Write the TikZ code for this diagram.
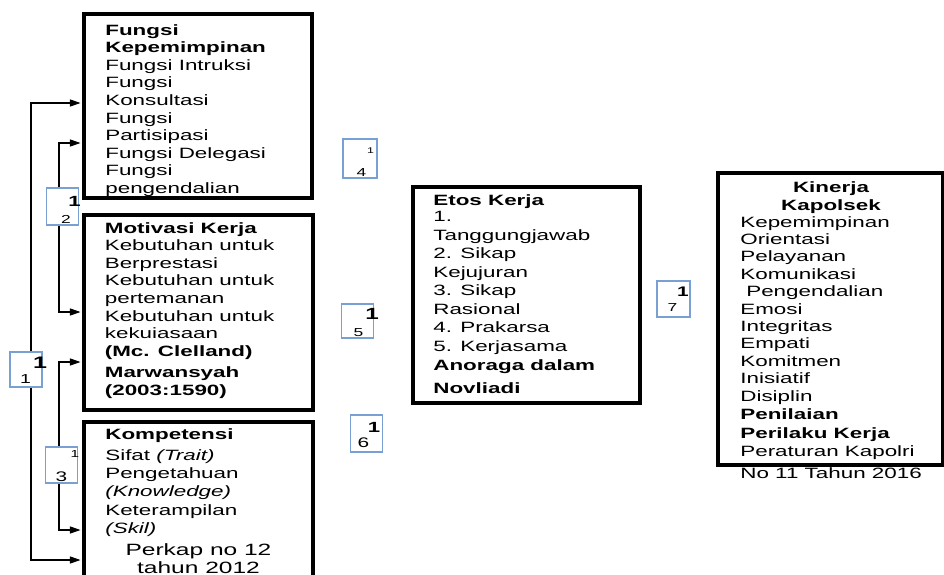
\documentclass[tikz,border=0pt]{standalone}
\usepackage{fontspec}
\setmainfont{Liberation Sans}[FakeStretch=1.5]
\usepackage{tikz}
\usetikzlibrary{arrows.meta,positioning}
\definecolor{numblue}{RGB}{120,160,210}
\newcommand{\fsz}[1]{\fontsize{#1}{#1}\selectfont}
\tikzstyle{arrow} = [line width=0.6pt,<->,>={Triangle[length=6pt,width=4pt]},shorten <=1pt,shorten >=1pt]
\tikzstyle{varbox} = [rectangle, draw=black, line width=2pt, inner sep=0pt]
\tikzstyle{numbox} = [rectangle, draw=numblue, fill=white, line width=1pt, minimum width=0.64cm, minimum height=0.72cm]
\tikzstyle{boxtext} = [align=left, inner sep=0pt, anchor=north west, font=\fontsize{8.5}{10}\selectfont]
\tikzstyle{numtext} = [inner sep=0pt]

\begin{document}
\begin{tikzpicture}[x=0.02cm, y=-0.02cm]
\useasboundingbox (0,0) rectangle (944,575);

% variable boxes
\node[varbox, minimum width=4.56cm, minimum height=3.68cm] (boxA) at (198,106) {};
\node[varbox, minimum width=4.58cm, minimum height=3.9cm] (boxB) at (198.5,312.5) {};
\node[varbox, minimum width=4.58cm, minimum height=3.96cm] (boxC) at (198.5,521) {};
\node[varbox, minimum width=4.54cm, minimum height=4.32cm] (boxD) at (526.5,295) {};
\node[varbox, minimum width=4.5cm, minimum height=5.84cm] (boxE) at (830.5,319) {};

% box texts
\begin{scope}
\clip (boxA.north west) rectangle ([yshift=1pt]boxA.south east);
\node[boxtext] (tA) at (105,24) {\textbf{Fungsi}\\ \textbf{Kepemimpinan}\\ Fungsi Intruksi\\ Fungsi\\ Konsultasi\\ Fungsi\\ Partisipasi\\ Fungsi Delegasi\\ Fungsi\\ pengendalian};
\end{scope}
\node[boxtext] (tB) at (104.5,222) {\textbf{Motivasi Kerja}\\ Kebutuhan untuk\\ Berprestasi\\ Kebutuhan untuk\\ pertemanan\\ Kebutuhan untuk\\ kekuiasaan\\ \textbf{(Mc. Clelland)}\\[2.2pt] \textbf{Marwansyah}\\ \textbf{(2003:1590)}};
\node[boxtext, font=\fontsize{8.5}{10.5}\selectfont] (tC) at (105,428) {\textbf{Kompetensi}\\[1.4pt] Sifat \textit{(Trait)}\\ Pengetahuan\\ \textit{(Knowledge)}\\ Keterampilan\\ \textit{(Skil)}};
\node[align=center, anchor=north, inner sep=0pt, font=\fontsize{9.3}{10.2}\selectfont] (tC2) at (198.5,543) {Perkap no 12\\ tahun 2012};
\node[boxtext, font=\fontsize{8.5}{10.5}\selectfont] (tD) at (433,194) {\textbf{Etos Kerja}\\[-1pt] 1.\\ Tanggungjawab\\ 2. Sikap\\ Kejujuran\\ 3. Sikap\\ Rasional\\ 4. Prakarsa\\ 5. Kerjasama\\[0.7pt] \textbf{Anoraga dalam}\\[2.5pt] \textbf{Novliadi}};
\node[align=center, anchor=north, inner sep=0pt, font=\bfseries\fontsize{8.5}{10.4}\selectfont] (tE1) at (831,181) {Kinerja\\ Kapolsek};
\node[boxtext, font=\fontsize{8.5}{9.9}\selectfont] (tE2) at (740,216) {Kepemimpinan\\ Orientasi\\ Pelayanan\\ Komunikasi\\ \hspace*{3.4pt}Pengendalian\\ Emosi\\ Integritas\\ Empati\\ Komitmen\\ Inisiatif\\ Disiplin\\[0.6pt] \textbf{Penilaian}\\[0.9pt] \textbf{Perilaku Kerja}\\[0.5pt] Peraturan Kapolri\\[2.2pt] No 11 Tahun 2016};

% connectors
\coordinate (l1top) at (31,103);
\coordinate (l1bot) at (31,560);
\coordinate (l2top) at (59,143);
\coordinate (l2bot) at (59,312);
\coordinate (l3top) at (59,362);
\coordinate (l3bot) at (59,530);
\draw[arrow] (boxA.west |- l1top) -- (l1top) -- (l1bot) -- (boxC.west |- l1bot);
\draw[arrow] (boxA.west |- l2top) -- (l2top) -- (l2bot) -- (boxB.west |- l2bot);
\draw[arrow] (boxB.west |- l3top) -- (l3top) -- (l3bot) -- (boxC.west |- l3bot);

% number boxes
\node[numbox, minimum height=0.7cm] (n11) at (26,369.5) {};
\node[numbox, minimum height=0.74cm] (n12) at (62.5,206.5) {};
\node[numbox] (n13) at (61.5,465) {};
\node[numbox, minimum width=0.68cm, minimum height=0.78cm] (n14) at (360,158.5) {};
\node[numbox, minimum height=0.68cm] (n15) at (357.5,321) {};
\node[numbox, minimum height=0.74cm] (n16) at (366.5,433.5) {};
\node[numbox, minimum width=0.66cm] (n17) at (673.5,299) {};

\node[numtext, font=\bfseries\fsz{9.5}] (n11a) at (40,362.5) {1};
\node[numtext, font=\fsz{7.4}] (n11b) at (25.5,379.5) {1};
\node[numtext, font=\bfseries\fsz{8.4}] (n12a) at (74.5,201.5) {1};
\node[numtext, font=\fsz{6.6}] (n12b) at (66,219) {2};
\node[numtext, font=\fsz{5.8}] (n13a) at (75,453.5) {1};
\node[numtext, font=\fsz{7.9}] (n13b) at (61.5,477) {3};
\node[numtext, font=\fsz{4.7}] (n14a) at (370.5,151) {1};
\node[numtext, font=\fsz{6.6}] (n14b) at (361.5,173) {4};
\node[numtext, font=\bfseries\fsz{9.2}] (n15a) at (372,314) {1};
\node[numtext, font=\fsz{6.6}] (n15b) at (358.5,332.5) {5};
\node[numtext, font=\bfseries\fsz{8.4}] (n16a) at (374,427) {1};
\node[numtext, font=\fsz{7.9}] (n16b) at (363.5,443) {6};
\node[numtext, font=\bfseries\fsz{7.9}] (n17a) at (683,292) {1};
\node[numtext, font=\fsz{6.6}] (n17b) at (672.5,307.5) {7};
\end{tikzpicture}
\end{document}
